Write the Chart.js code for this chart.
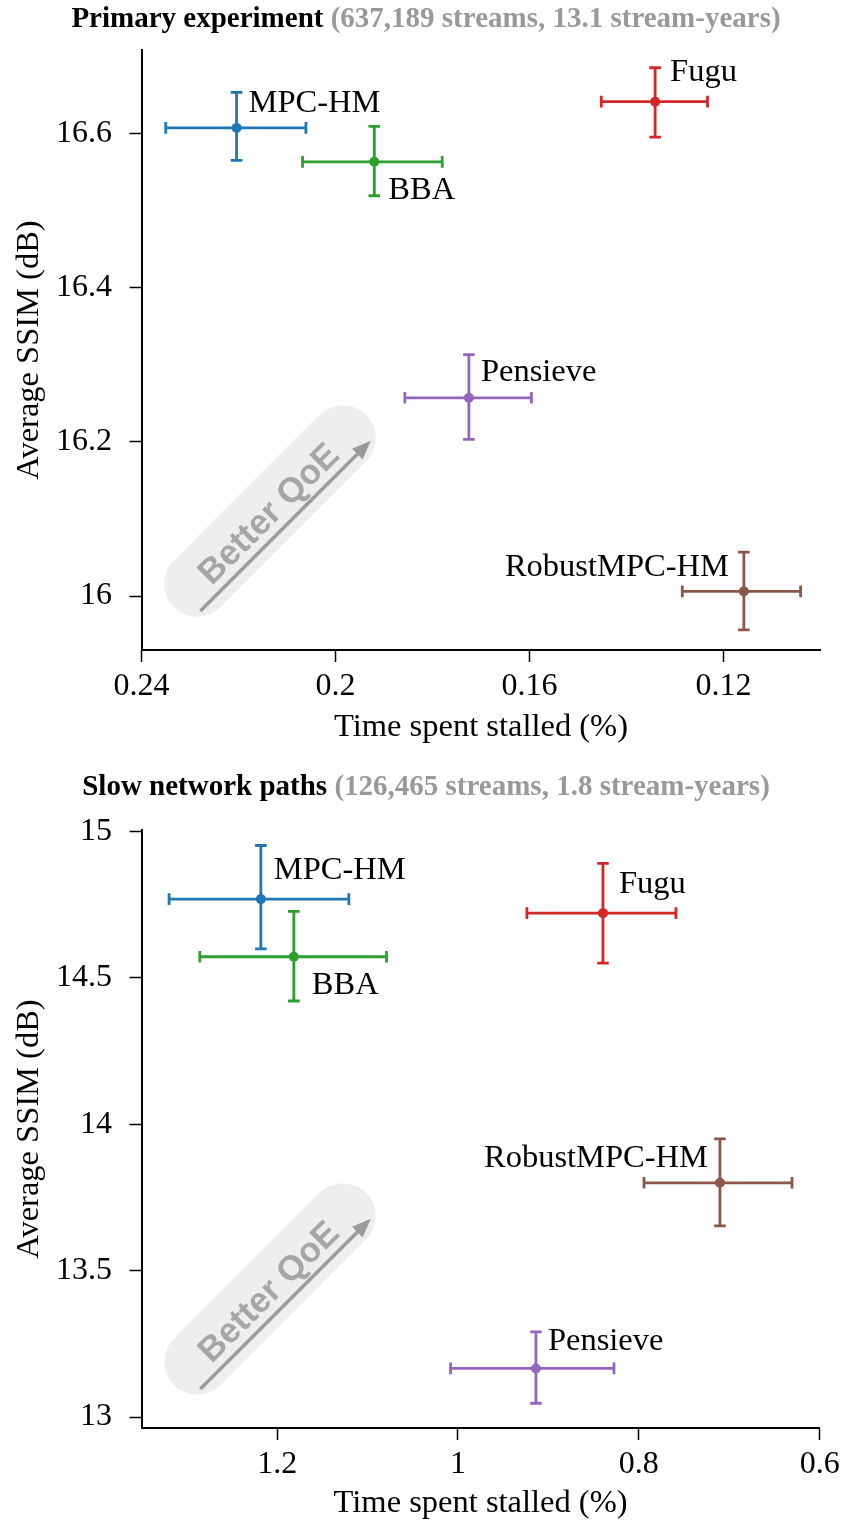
<!DOCTYPE html>
<html>
<head>
<meta charset="utf-8">
<title>Stall time vs. SSIM</title>
<script src="https://cdn.jsdelivr.net/npm/chart.js@4/dist/chart.umd.min.js"></script>
<style>
  html, body { margin: 0; padding: 0; background: #ffffff; }
  #wrap { position: relative; width: 841px; height: 1524px; }
  canvas { position: absolute; left: 0; display: block; }
</style>
</head>
<body>
<div id="wrap">
  <canvas id="primary" width="841" height="760" style="top:0px"></canvas>
  <canvas id="slow" width="841" height="764" style="top:760px"></canvas>
</div>
<script>
// ABR schemes and their colours
const schemes = ['MPC-HM', 'BBA', 'Fugu', 'Pensieve', 'RobustMPC-HM'];
const schemeColors = ['#1f77b4', '#2ca02c', '#d62728', '#9467bd', '#8c564b'];

// Primary experiment: mean stall ratio (%) and SSIM (dB) with 95% intervals
const primaryStall   = [0.2204, 0.1920, 0.1341, 0.1725, 0.1158];
const primaryStallLo = [0.2061, 0.1780, 0.1233, 0.1596, 0.1041];
const primaryStallHi = [0.2350, 0.2068, 0.1452, 0.1857, 0.1285];
const primarySsim    = [16.607, 16.563, 16.641, 16.257, 16.006];
const primarySsimLo  = [16.565, 16.519, 16.595, 16.203, 15.956];
const primarySsimHi  = [16.653, 16.609, 16.685, 16.313, 16.057];
const primaryStallTicks = [0.24, 0.2, 0.16, 0.12];
const primarySsimTicks  = [16, 16.2, 16.4, 16.6];

// Slow network paths
const slowStall   = [1.218, 1.1815, 0.8397, 0.9138, 0.7103];
const slowStallLo = [1.1207, 1.079, 0.7590, 0.8275, 0.6306];
const slowStallHi = [1.3195, 1.2855, 0.9238, 1.0082, 0.7943];
const slowSsim    = [14.769, 14.572, 14.721, 13.166, 13.800];
const slowSsimLo  = [14.599, 14.421, 14.550, 13.047, 13.653];
const slowSsimHi  = [14.952, 14.727, 14.891, 13.291, 13.950];
const slowStallTicks = [1.2, 1, 0.8, 0.6];
const slowSsimTicks  = [13, 13.5, 14, 14.5, 15];

// Name-label placement next to each point: [dx, dy, align]
const primaryLabelPos = [[12, -24, 'left'], [14, 29, 'left'], [15, -29, 'left'], [12, -25, 'left'], [-15, -24, 'right']];
const slowLabelPos    = [[13, -29, 'left'], [18, 29, 'left'], [16, -29, 'left'], [12, -27, 'left'], [-12, -24, 'right']];

const SERIF = '"Liberation Serif", "Times New Roman", Times, serif';
const SANS = '"Liberation Sans", Arial, Helvetica, sans-serif';

function fmt(v) { return String(parseFloat(Number(v).toFixed(3))); }

// Background "Better QoE" pill with arrow, then error bars under the markers
const decorPlugin = {
  id: 'decor',
  beforeDatasetsDraw(chart) {
    const ctx = chart.ctx, ca = chart.chartArea;
    ctx.save();
    ctx.translate(ca.left + 128.5, ca.bottom - 139);
    ctx.rotate(-Math.PI / 4);
    ctx.fillStyle = '#eeeeee';
    ctx.beginPath();
    ctx.roundRect(-136, -33, 272, 66, 33);
    ctx.fill();
    // arrow
    ctx.strokeStyle = '#9a9a9a';
    ctx.fillStyle = '#9a9a9a';
    ctx.lineWidth = 3.5;
    ctx.beginPath();
    ctx.moveTo(-120, 21.5);
    ctx.lineTo(106, 21.5);
    ctx.stroke();
    ctx.beginPath();
    ctx.moveTo(121, 21.5);
    ctx.lineTo(102, 14);
    ctx.lineTo(102, 29);
    ctx.closePath();
    ctx.fill();
    // text
    ctx.fillStyle = '#a6a6a6';
    ctx.font = 'bold 35px ' + SANS;
    ctx.textAlign = 'center';
    ctx.textBaseline = 'alphabetic';
    ctx.fillText('Better QoE', -3, 12);
    ctx.restore();

    // error bars
    const p = chart.options.plugins.decor;
    const xs = chart.scales.x, ys = chart.scales.y;
    ctx.save();
    ctx.lineWidth = 2.8;
    ctx.lineCap = 'butt';
    const cap = 5.8;
    for (let i = 0; i < p.stall.length; i++) {
      ctx.strokeStyle = schemeColors[i];
      const cx = xs.getPixelForValue(p.stall[i]);
      const cy = ys.getPixelForValue(p.ssim[i]);
      const xl = xs.getPixelForValue(p.stallLo[i]);
      const xh = xs.getPixelForValue(p.stallHi[i]);
      const yl = ys.getPixelForValue(p.ssimLo[i]);
      const yh = ys.getPixelForValue(p.ssimHi[i]);
      ctx.beginPath();
      ctx.moveTo(xl, cy); ctx.lineTo(xh, cy);
      ctx.moveTo(xl, cy - cap); ctx.lineTo(xl, cy + cap);
      ctx.moveTo(xh, cy - cap); ctx.lineTo(xh, cy + cap);
      ctx.moveTo(cx, yl); ctx.lineTo(cx, yh);
      ctx.moveTo(cx - cap, yl); ctx.lineTo(cx + cap, yl);
      ctx.moveTo(cx - cap, yh); ctx.lineTo(cx + cap, yh);
      ctx.stroke();
    }
    ctx.restore();
  },
  afterDatasetsDraw(chart) {
    const ctx = chart.ctx;
    const p = chart.options.plugins.decor;
    const xs = chart.scales.x, ys = chart.scales.y;
    ctx.save();
    ctx.fillStyle = '#000000';
    ctx.font = '32.5px ' + SERIF;
    ctx.textBaseline = 'middle';
    for (let i = 0; i < schemes.length; i++) {
      const [dx, dy, align] = p.labelPos[i];
      ctx.textAlign = align;
      ctx.fillText(schemes[i], xs.getPixelForValue(p.stall[i]) + dx, ys.getPixelForValue(p.ssim[i]) + dy);
    }
    ctx.restore();
  },
  afterDraw(chart) {
    const ctx = chart.ctx;
    const p = chart.options.plugins.decor;
    ctx.save();
    ctx.font = 'bold 29px ' + SERIF;
    ctx.textBaseline = 'middle';
    ctx.textAlign = 'left';
    const w1 = ctx.measureText(p.title + ' ').width;
    const w2 = ctx.measureText(p.subtitle).width;
    const x0 = p.titleX - (w1 + w2) / 2;
    ctx.fillStyle = '#000000';
    ctx.fillText(p.title + ' ', x0, p.titleY);
    ctx.fillStyle = '#999999';
    ctx.fillText(p.subtitle, x0 + w1, p.titleY);
    ctx.restore();
  }
};

function buildChart(id, cfg) {
  const datasets = schemes.map((name, i) => ({
    label: name,
    data: [{ x: cfg.stall[i], y: cfg.ssim[i] }],
    backgroundColor: schemeColors[i],
    borderColor: schemeColors[i],
    pointRadius: 5,
    pointBorderWidth: 0
  }));
  const tickFont = { family: SERIF, size: 32, lineHeight: 1.2 };
  const titleFont = { family: SERIF, size: 32.5, lineHeight: 1.2 };
  return new Chart(document.getElementById(id), {
    type: 'scatter',
    data: { datasets },
    plugins: [decorPlugin],
    options: {
      responsive: false,
      animation: false,
      events: [],
      layout: { padding: { top: cfg.padTop, right: cfg.padRight, left: 0, bottom: 0 } },
      plugins: {
        legend: { display: false },
        tooltip: { enabled: false },
        decor: {
          stall: cfg.stall, stallLo: cfg.stallLo, stallHi: cfg.stallHi,
          ssim: cfg.ssim, ssimLo: cfg.ssimLo, ssimHi: cfg.ssimHi,
          labelPos: cfg.labelPos, title: cfg.title, subtitle: cfg.subtitle,
          titleX: 426, titleY: cfg.titleY
        }
      },
      scales: {
        x: {
          type: 'linear',
          position: 'bottom',
          reverse: true,
          min: cfg.xMin, max: cfg.xMax,
          afterBuildTicks: s => { s.ticks = cfg.xTicks.map(v => ({ value: v })); },
          afterFit: s => { s.height = cfg.xAxisH; s.paddingRight = 0; s.paddingLeft = 0; },
          ticks: { callback: v => fmt(v), font: tickFont, color: '#000', padding: 5.8, maxRotation: 0, autoSkip: false },
          grid: { display: true, drawOnChartArea: false, drawTicks: true, tickLength: 12, tickWidth: 1.5, color: '#000' },
          border: { display: true, color: '#000', width: 2 },
          title: { display: true, text: 'Time spent stalled (%)', color: '#000',
                   font: titleFont, padding: { top: 0, bottom: cfg.xTitlePad } }
        },
        y: {
          type: 'linear',
          position: 'left',
          min: cfg.yMin, max: cfg.yMax,
          afterBuildTicks: s => { s.ticks = cfg.yTicks.map(v => ({ value: v })); },
          afterFit: s => { s.width = 141.5; s.paddingTop = 0; s.paddingBottom = 0; },
          ticks: { callback: v => fmt(v), font: tickFont, color: '#000', padding: 17.5, autoSkip: false },
          grid: { display: true, drawOnChartArea: false, drawTicks: true, tickLength: 12, tickWidth: 1.5, color: '#000' },
          border: { display: true, color: '#000', width: 2 },
          title: { display: true, text: 'Average SSIM (dB)', color: '#000',
                   font: titleFont, padding: { top: 9.5, bottom: 0 } }
        }
      }
    }
  });
}

buildChart('primary', {
  stall: primaryStall, stallLo: primaryStallLo, stallHi: primaryStallHi,
  ssim: primarySsim, ssimLo: primarySsimLo, ssimHi: primarySsimHi,
  xTicks: primaryStallTicks, yTicks: primarySsimTicks,
  xMin: 0.1, xMax: 0.24, yMin: 15.93, yMax: 16.708,
  labelPos: primaryLabelPos,
  title: 'Primary experiment', subtitle: '(637,189 streams, 13.1 stream-years)',
  titleY: 20, padTop: 50, padRight: 20.5, xAxisH: 110, xTitlePad: 13.5
});

buildChart('slow', {
  stall: slowStall, stallLo: slowStallLo, stallHi: slowStallHi,
  ssim: slowSsim, ssimLo: slowSsimLo, ssimHi: slowSsimHi,
  xTicks: slowStallTicks, yTicks: slowSsimTicks,
  xMin: 0.6, xMax: 1.35, yMin: 12.9625, yMax: 15.005,
  labelPos: slowLabelPos,
  title: 'Slow network paths', subtitle: '(126,465 streams, 1.8 stream-years)',
  titleY: 28, padTop: 70, padRight: 21.3, xAxisH: 96, xTitlePad: 1.5
});
</script>
</body>
</html>
